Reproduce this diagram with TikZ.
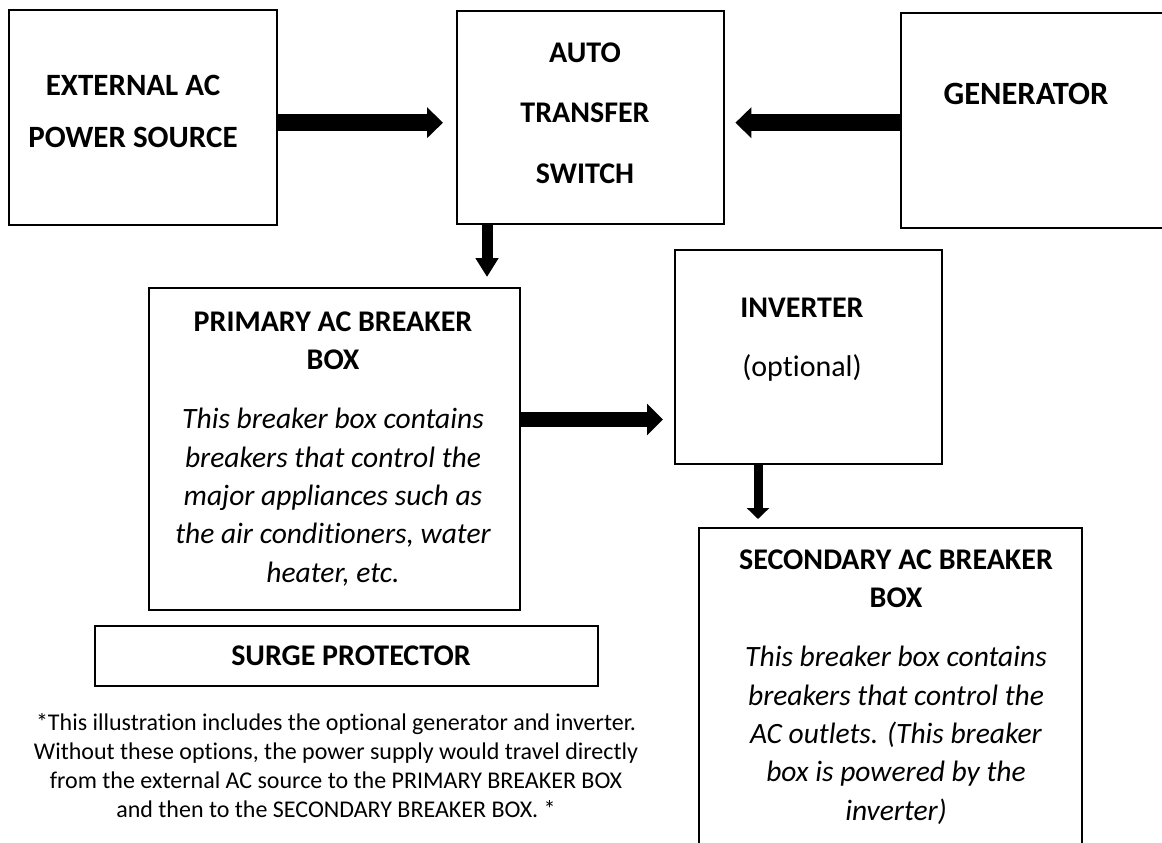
\documentclass[tikz,border=0pt]{standalone}
\usepackage{fontspec}
\setmainfont[Ligatures=NoCommon]{Carlito}
\usetikzlibrary{arrows.meta,calc}
\begin{document}
\begin{tikzpicture}[x=1pt,y=-1pt,
  box/.style={draw=black, line width=2.4pt, rectangle, inner sep=0pt, anchor=north west},
  hd/.style={font=\bfseries\fontsize{30}{38}\selectfont, align=center, inner sep=0pt, anchor=base},
  itx/.style={font=\itshape\fontsize{29.5}{38.3}\selectfont, align=center, inner sep=0pt, anchor=base},
  note/.style={font=\fontsize{24}{29}\selectfont, align=center, inner sep=0pt, anchor=base},
  harrow/.style={line width=17pt, -{Triangle[length=16pt,width=30pt]}},
  parrow/.style={line width=15pt, -{Triangle[length=16pt,width=31pt]}},
  varrow/.style={line width=11pt, -{Triangle[length=19pt,width=22pt]}},
  sarrow/.style={line width=9pt, -{Triangle[length=11pt,width=22pt]}}
]
\useasboundingbox (0,0) rectangle (1162,843);
\clip (0,0) rectangle (1162,843);
\fill[white] (0,0) rectangle (1162,843);

% boxes
\node[box, minimum width=268pt, minimum height=215pt] (ext) at (8,9) {};
\node[box, minimum width=267pt, minimum height=213pt] (ats) at (456,10) {};
\node[box, minimum width=285pt, minimum height=215pt] (gen) at (900,12) {};
\node[box, minimum width=371pt, minimum height=322pt] (pri) at (148,287) {};
\node[box, minimum width=267pt, minimum height=214pt] (inv) at (674,249) {};
\node[box, minimum width=383pt, minimum height=345pt] (sec) at (698,527) {};
\node[box, minimum width=503pt, minimum height=60pt] (surge) at (94,625) {};

% texts (anchor = baseline of the last line)
\node[hd, font=\bfseries\fontsize{31}{52}\selectfont] (extT) at (133,147) {EXTERNAL AC\\POWER SOURCE};
\node[hd, font=\bfseries\fontsize{30}{60.5}\selectfont] (atsT) at (585,183) {AUTO\\TRANSFER\\SWITCH};
\node[hd, font=\bfseries\fontsize{32.5}{38}\selectfont] (genT) at (1026,104) {GENERATOR};
\node[hd, font=\fontsize{30}{59}\selectfont] (invT) at (802,376) {\textbf{INVERTER}\\(optional)};
\node[hd] (priH) at (333,369) {PRIMARY AC BREAKER\\BOX};
\node[itx] (priT) at (333,582) {This breaker box contains\\breakers that control the\\major appliances such as\\the air conditioners, water\\heater, etc.};
\node[hd] (secH) at (896,607) {SECONDARY AC BREAKER\\BOX};
\node[itx] (secT) at (896,820) {This breaker box contains\\breakers that control the\\AC outlets. (This breaker\\box is powered by the\\inverter)};
\node[hd] (surgeT) at (351,665) {SURGE PROTECTOR};
\node[note] (noteT) at (336,817) {*This illustration includes the optional generator and inverter.\\Without these options, the power supply would travel directly\\from the external AC source to the PRIMARY BREAKER BOX\\and then to the SECONDARY BREAKER BOX. *};

% connectors
\coordinate (a1) at ($(ext.east)+(0,5)$);
\draw[harrow, shorten >=13pt] (a1) -- (a1 -| ats.west);
\coordinate (a2) at ($(ats.east)+(0,5)$);
\draw[harrow, shorten >=10pt] (a2 -| gen.west) -- (a2);
\coordinate (a3) at ($(ats.south west)+(31,0)$);
\draw[varrow, shorten >=10pt] (a3) -- (a3 |- pri.north);
\coordinate (a5) at ($(pri.north east)+(0,132.5)$);
\draw[parrow, shorten >=11pt] (a5) -- (a5 -| inv.west);
\coordinate (a4) at ($(inv.south west)+(84,0)$);
\draw[sarrow, shorten >=8pt] (a4) -- (a4 |- sec.north);
\end{tikzpicture}
\end{document}
